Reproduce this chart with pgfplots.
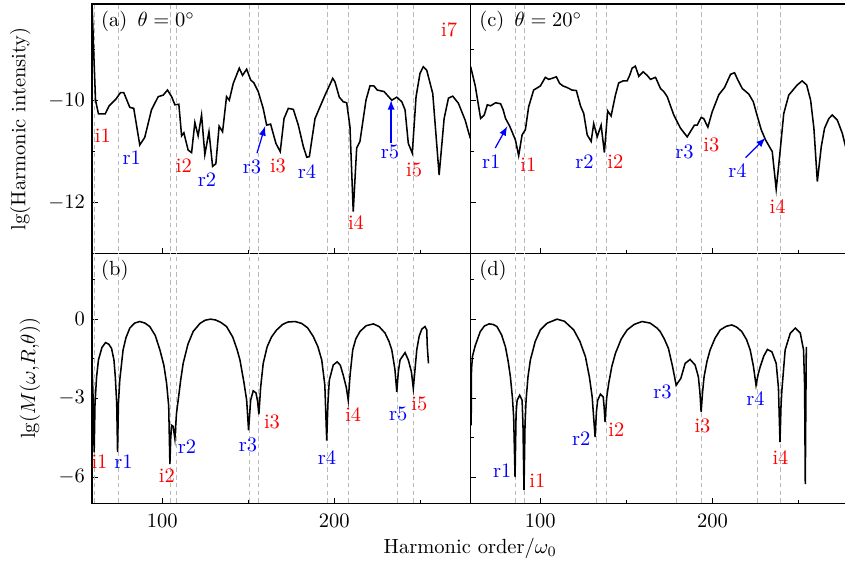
\documentclass[border=0pt]{standalone}
\usepackage{pgfplots}
\pgfplotsset{compat=1.18}
\usepgfplotslibrary{groupplots}
\tikzset{dashline/.style={gray!55, line width=0.4pt, dash pattern=on 2.2pt off 1.6pt}}
\newcommand\vl[1]{\addplot[dashline, forget plot] coordinates {(#1,-20) (#1,20)};}
\begin{document}
\begin{tikzpicture}
\begin{groupplot}[
  group style={group size=2 by 2, horizontal sep=0pt, vertical sep=0pt},
  scale only axis, width=184.4pt,
  xmin=59.3, xmax=279,
  tick align=inside, xtick pos=bottom, ytick pos=left,
  xtick={100,200}, minor xtick={150,250},
  major tick length=2.7pt, minor tick length=1.6pt,
  axis line style={line width=0.6pt},
  every tick/.style={black, line width=0.5pt},
  x tick label style={yshift=-1.5pt},
]
%%%%%%%%%%%%%%%% (a)
\nextgroupplot[height=121.5pt, ymin=-13, ymax=-8.1,
  ytick={-12,-10}, minor ytick={-13,-11,-9}, xticklabels={},
  ylabel={lg(Harmonic intensity)},
  ylabel style={at={(axis description cs:-0.19,0.5)}, anchor=center}]
\vl{60.9}\vl{74.8}\vl{104.7}\vl{108.1}\vl{150.4}\vl{155.8}\vl{196.2}\vl{208.4}\vl{236.9}\vl{246.2}
\addplot[black, line width=0.75pt] table {
59.3 -8.1
60.2 -9.0
61.3 -9.99
63.0 -10.26
66.9 -10.26
69.2 -10.10
73.1 -9.97
75.8 -9.84
77.7 -9.84
81.2 -10.13
83.5 -10.15
87.0 -10.87
89.9 -10.72
93.8 -10.18
97.7 -9.92
100.6 -9.89
103.1 -9.79
105.5 -9.92
107.4 -10.08
109.7 -10.07
111.3 -10.69
112.6 -10.63
115.1 -10.97
117.1 -11.02
119.0 -10.43
120.9 -10.69
122.9 -10.28
124.8 -11.06
127.2 -10.61
129.3 -11.29
131.2 -11.24
133.1 -10.50
135.1 -10.61
137.4 -9.92
139.0 -9.99
141.3 -9.66
144.8 -9.36
146.7 -9.50
149.1 -9.38
151.4 -9.59
153.3 -9.65
155.8 -9.82
158.7 -10.15
160.7 -10.48
163.0 -10.46
166.1 -10.84
168.6 -11.00
170.8 -10.35
173.3 -10.15
176.2 -10.17
179.1 -10.48
182.0 -10.90
184.0 -11.11
185.5 -11.10
188.8 -10.35
194.6 -9.89
199.1 -9.56
200.4 -9.63
202.9 -9.93
205.2 -10.02
207.2 -10.04
209.1 -10.51
211.0 -12.18
213.0 -10.93
214.9 -10.80
218.4 -9.99
220.7 -9.71
223.0 -9.71
225.0 -9.79
228.9 -9.82
233.4 -9.99
236.3 -9.93
239.2 -10.02
241.1 -10.18
243.0 -10.84
245.3 -11.03
247.5 -9.92
249.8 -9.46
251.7 -9.33
253.7 -9.40
257.2 -9.86
260.9 -11.46
263.8 -10.35
266.3 -9.95
268.8 -9.91
272.1 -10.05
276.0 -10.38
279.0 -10.74
};
\node[anchor=north west, inner sep=2pt] at (rel axis cs:0.012,0.99) {(a)\enspace$\theta=0^\circ$};
\node[red] at (axis cs:65.6,-10.69) {i1};
\node[blue] at (axis cs:82.4,-11.12) {r1};
\node[red] at (axis cs:112.6,-11.28) {i2};
\node[blue] at (axis cs:126.0,-11.55) {r2};
\node[blue] at (axis cs:152.2,-11.30) {r3};
\draw[blue, line width=0.6pt, -latex] (axis cs:155.1,-11.03) -- (axis cs:159.8,-10.50);
\node[red] at (axis cs:167.3,-11.28) {i3};
\node[blue] at (axis cs:184.2,-11.40) {r4};
\node[red] at (axis cs:212.6,-12.40) {i4};
\node[blue] at (axis cs:232.4,-11.0) {r5};
\draw[blue, line width=0.6pt, -latex] (axis cs:233.0,-10.83) -- (axis cs:233.0,-9.99);
\node[red] at (axis cs:246.4,-11.36) {i5};
\node[red] at (axis cs:266.7,-8.61) {i7};
%%%%%%%%%%%%%%%% (c)
\nextgroupplot[height=121.5pt, ymin=-13, ymax=-8.1,
  ytick={-12,-10}, minor ytick={-13,-11,-9}, xticklabels={}, yticklabels={}]
\vl{85.6}\vl{90.9}\vl{132.4}\vl{138.2}\vl{179.2}\vl{193.6}\vl{225.8}\vl{239.4}
\addplot[black, line width=0.75pt] table {
59.5 -9.33
62.2 -9.71
65.3 -10.35
67.4 -10.28
69.2 -10.08
71.1 -10.10
74.0 -10.04
76.9 -10.06
78.3 -10.17
79.8 -10.35
82.2 -10.50
85.5 -10.77
87.4 -11.08
89.4 -10.67
91.3 -10.57
93.2 -10.12
96.1 -9.79
100.0 -9.71
102.9 -9.54
104.8 -9.58
106.8 -9.56
109.3 -9.53
111.2 -9.66
113.2 -9.71
115.5 -9.74
118.4 -9.79
120.9 -9.80
123.3 -10.10
125.2 -10.25
127.2 -10.67
129.5 -10.80
131.0 -10.45
133.0 -10.71
135.3 -10.48
137.2 -11.02
139.1 -10.20
141.1 -10.30
143.6 -9.89
145.5 -9.65
148.1 -9.61
150.4 -9.61
151.9 -9.50
153.3 -9.36
155.2 -9.32
157.2 -9.52
159.7 -9.43
162.0 -9.50
164.0 -9.58
166.9 -9.54
169.8 -9.76
171.7 -9.82
173.7 -9.92
177.5 -10.28
181.4 -10.54
185.3 -10.71
189.5 -10.48
191.1 -10.48
193.4 -10.33
194.9 -10.35
197.3 -10.52
199.8 -10.22
203.7 -9.88
207.0 -9.74
210.5 -9.48
212.8 -9.45
214.7 -9.59
217.3 -9.76
221.1 -9.87
223.7 -10.02
226.0 -10.30
228.3 -10.57
230.8 -10.77
234.7 -11.00
237.0 -11.74
238.5 -11.26
241.4 -10.25
244.3 -9.89
249.2 -9.69
252.1 -9.61
254.7 -9.69
257.0 -9.99
258.9 -10.54
260.9 -11.59
263.2 -10.90
265.1 -10.54
267.6 -10.35
269.6 -10.28
272.5 -10.38
275.4 -10.64
277.3 -10.90
279.0 -11.10
};
\node[anchor=north west, inner sep=2pt] at (rel axis cs:0.012,0.99) {(c)\enspace$\theta=20^\circ$};
\node[blue] at (axis cs:71.5,-11.2) {r1};
\draw[blue, line width=0.6pt, -latex] (axis cs:73.8,-10.93) -- (axis cs:80.8,-10.50);
\node[red] at (axis cs:93.0,-11.26) {i1};
\node[blue] at (axis cs:125.6,-11.2) {r2};
\node[red] at (axis cs:143.6,-11.2) {i2};
\node[blue] at (axis cs:183.7,-11.0) {r3};
\node[red] at (axis cs:199.4,-10.87) {i3};
\node[blue] at (axis cs:214.5,-11.38) {r4};
\draw[blue, line width=0.6pt, -latex] (axis cs:219.2,-11.12) -- (axis cs:230.8,-10.73);
\node[red] at (axis cs:237.8,-12.08) {i4};
%%%%%%%%%%%%%%%% (b)
\nextgroupplot[height=122pt, ymin=-7, ymax=2.5,
  ytick={-6,-3,0}, minor ytick={-4.5,-1.5,1.5},
  ylabel={lg$(M(\omega{,}R{,}\theta))$},
  ylabel style={at={(axis description cs:-0.164,0.5)}, anchor=center}]
\vl{60.9}\vl{74.8}\vl{104.7}\vl{108.1}\vl{150.4}\vl{155.8}\vl{196.2}\vl{208.4}\vl{236.9}\vl{246.2}
\addplot[black, line width=0.75pt] table {
59.3 -1.81
59.9 -3.0
60.5 -5.06
61.0 -3.2
61.9 -2.2
63.0 -1.55
65.0 -1.08
67.1 -0.89
69.0 -0.95
70.6 -1.11
72.0 -1.55
72.8 -2.2
73.6 -3.2
74.1 -5.05
74.6 -3.2
75.4 -2.3
77.3 -1.17
79.0 -0.70
81.2 -0.34
84.0 -0.15
87.0 -0.09
90.0 -0.15
92.8 -0.28
96.0 -0.62
98.7 -1.17
101.0 -1.75
102.6 -2.44
103.8 -3.3
104.5 -5.50
105.0 -4.5
105.5 -4.03
106.4 -4.07
107.4 -4.54
108.3 -3.6
109.3 -3.08
110.8 -2.3
112.2 -1.68
115.0 -0.95
118.0 -0.47
122.0 -0.16
125.0 -0.04
128.1 0.0
131.0 -0.03
134.0 -0.12
137.4 -0.28
141.0 -0.68
143.5 -1.15
145.2 -1.55
147.5 -2.4
149.1 -3.08
150.2 -4.22
151.4 -3.08
152.9 -2.72
154.5 -2.80
155.4 -3.1
156.2 -3.61
157.2 -2.6
158.7 -1.68
161.0 -1.05
163.5 -0.68
166.5 -0.41
170.0 -0.20
173.0 -0.11
177.2 -0.09
181.0 -0.16
184.5 -0.33
187.8 -0.66
190.5 -1.05
192.7 -1.55
194.5 -2.5
195.6 -4.61
196.3 -3.2
197.1 -2.32
199.4 -1.74
201.7 -1.62
203.5 -1.75
205.2 -2.13
207.0 -2.6
208.1 -3.08
209.2 -2.1
210.7 -1.17
212.5 -0.75
214.9 -0.47
218.5 -0.25
222.7 -0.18
226.0 -0.28
229.5 -0.53
231.8 -0.85
233.4 -1.17
235.2 -1.9
236.3 -2.76
237.2 -2.0
238.2 -1.55
241.1 -1.27
243.0 -1.55
244.8 -2.0
245.9 -2.63
246.9 -1.9
247.9 -1.17
249.3 -0.65
250.8 -0.38
252.7 -0.28
253.7 -0.41
254.0 -1.0
254.7 -1.68
};
\node[anchor=north west, inner sep=2pt] at (rel axis cs:0.012,0.99) {(b)};
\node[red] at (axis cs:63.6,-5.41) {i1};
\node[blue] at (axis cs:77.6,-5.41) {r1};
\node[red] at (axis cs:102.8,-5.94) {i2};
\node[blue] at (axis cs:114.4,-4.83) {r2};
\node[blue] at (axis cs:149.9,-4.76) {r3};
\node[red] at (axis cs:163.8,-3.92) {i3};
\node[blue] at (axis cs:195.8,-5.26) {r4};
\node[red] at (axis cs:211.0,-3.61) {i4};
\node[blue] at (axis cs:237.2,-3.61) {r5};
\node[red] at (axis cs:249.4,-3.23) {i5};
%%%%%%%%%%%%%%%% (d)
\nextgroupplot[height=122pt, ymin=-7, ymax=2.5,
  ytick={-6,-3,0}, minor ytick={-4.5,-1.5,1.5}, yticklabels={}]
\vl{85.6}\vl{90.9}\vl{132.4}\vl{138.2}\vl{179.2}\vl{193.6}\vl{225.8}\vl{239.4}
\addplot[black, line width=0.75pt] table {
59.6 -1.8
59.8 -4.03
60.0 -1.9
60.6 -1.4
62.2 -1.0
65.1 -0.47
67.5 -0.26
70.2 -0.18
72.5 -0.2
74.8 -0.28
77.5 -0.6
79.7 -1.05
81.3 -1.6
82.6 -2.19
83.8 -3.0
84.5 -3.72
85.3 -6.0
85.9 -3.6
86.5 -3.08
88.0 -2.89
89.4 -3.08
89.9 -4.0
90.5 -6.49
91.1 -4.0
91.7 -3.08
92.8 -2.2
94.2 -1.55
97.0 -0.85
100.0 -0.41
104.0 -0.15
109.7 0.0
114.0 -0.08
119.4 -0.41
123.0 -0.85
126.2 -1.43
128.5 -2.2
130.1 -2.95
131.8 -4.48
132.6 -3.5
133.3 -3.08
134.9 -2.85
136.5 -2.95
137.0 -3.3
137.6 -3.91
138.5 -3.0
139.7 -2.44
141.5 -1.8
143.6 -1.30
147.0 -0.75
150.4 -0.41
154.5 -0.2
159.1 -0.09
163.8 -0.15
167.8 -0.34
169.6 -0.47
172.0 -0.75
174.4 -1.11
176.8 -1.8
178.9 -2.51
180.0 -2.4
181.6 -2.25
184.1 -1.68
187.0 -1.53
189.9 -1.74
191.8 -2.19
192.7 -2.8
193.4 -3.53
194.2 -2.8
195.1 -2.19
196.8 -1.6
198.6 -1.17
201.5 -0.72
204.5 -0.41
208.0 -0.27
211.2 -0.22
214.0 -0.30
217.0 -0.47
219.8 -0.78
221.9 -1.17
223.8 -1.8
225.3 -2.51
226.5 -2.1
227.7 -1.81
229.8 -1.4
231.9 -1.15
234.5 -1.24
237.0 -1.68
238.3 -2.6
239.2 -4.67
239.8 -3.3
240.3 -2.70
242.2 -1.17
245.2 -0.53
248.1 -0.34
251.0 -0.53
252.9 -1.17
253.5 -2.5
253.9 -6.26
254.2 -3.5
254.5 -1.05
};
\node[anchor=north west, inner sep=2pt] at (rel axis cs:0.012,0.99) {(d)};
\node[blue] at (axis cs:77.9,-5.75) {r1};
\node[red] at (axis cs:98.3,-6.13) {i1};
\node[blue] at (axis cs:123.8,-4.53) {r2};
\node[red] at (axis cs:144.2,-4.19) {i2};
\node[blue] at (axis cs:170.9,-2.78) {r3};
\node[red] at (axis cs:194.2,-4.04) {i3};
\node[blue] at (axis cs:225.0,-3.0) {r4};
\node[red] at (axis cs:239.5,-5.26) {i4};
\end{groupplot}
\path (group c1r2.south east) ++(0,-22pt) node {Harmonic order/$\omega_0$};
\pgfresetboundingbox
\path[use as bounding box] (group c1r1.north west) ++(-44.9pt,2pt) rectangle ++(412pt,-273.7pt);
\end{tikzpicture}
\end{document}
